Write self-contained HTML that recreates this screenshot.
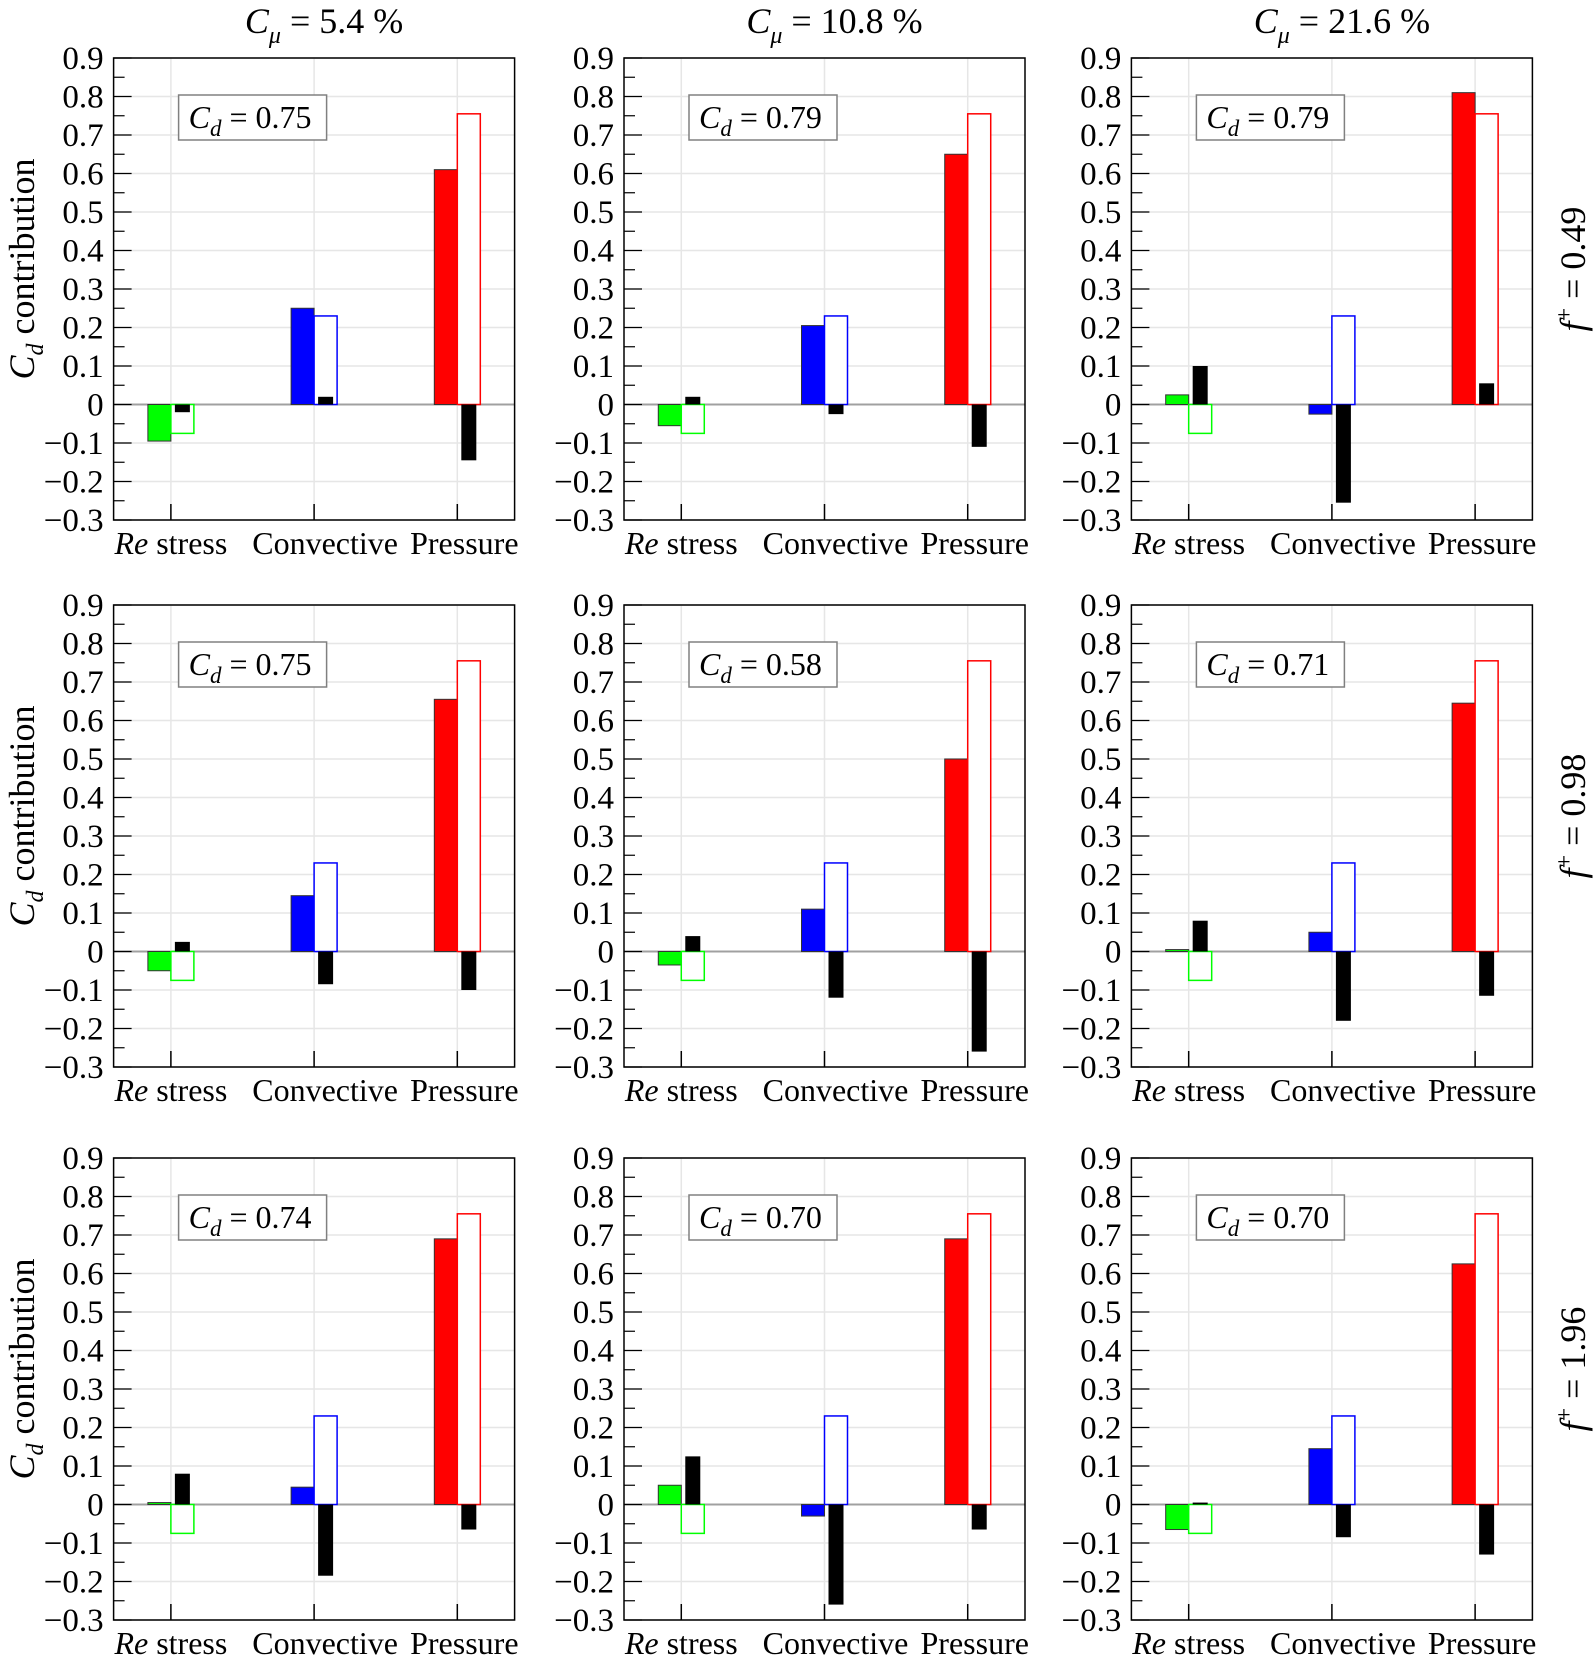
<!DOCTYPE html>
<html><head><meta charset="utf-8"><style>
html,body{margin:0;padding:0;background:#fff;}
svg{display:block;}
svg text{font-family:"Liberation Serif","Times New Roman",serif;}
</style></head><body>
<svg id="fig" width="1595" height="1666" viewBox="0 0 1595 1666" xmlns="http://www.w3.org/2000/svg" font-family="Liberation Serif, serif"></svg>
<script>
const categories = ["Re stress", "Convective", "Pressure"];
const colTitles = ["5.4 %", "10.8 %", "21.6 %"];
const rowTitles = ["0.49", "0.98", "1.96"];
const cdValues = [["0.75","0.79","0.79"],["0.75","0.58","0.71"],["0.74","0.70","0.70"]];
const refValues = [-0.075, 0.23, 0.755];
const filledValues = [
  [[-0.095,0.25,0.61],[-0.055,0.205,0.65],[0.025,-0.025,0.81]],
  [[-0.05,0.145,0.655],[-0.035,0.11,0.50],[0.005,0.05,0.645]],
  [[0.005,0.045,0.69],[0.05,-0.03,0.69],[-0.065,0.145,0.625]]
];
const blackValues = [
  [[-0.02,0.02,-0.145],[0.02,-0.025,-0.11],[0.10,-0.255,0.055]],
  [[0.025,-0.085,-0.10],[0.04,-0.12,-0.26],[0.08,-0.18,-0.115]],
  [[0.08,-0.185,-0.065],[0.125,-0.26,-0.065],[0.005,-0.085,-0.13]]
];
const yTicks = [0.9,0.8,0.7,0.6,0.5,0.4,0.3,0.2,0.1,0,-0.1,-0.2,-0.3];
const yTickLabels = ["0.9","0.8","0.7","0.6","0.5","0.4","0.3","0.2","0.1","0","\u22120.1","\u22120.2","\u22120.3"];
const fillColors = ["#00ff00","#0000ff","#ff0000"];

const NS="http://www.w3.org/2000/svg";
const svg=document.getElementById('fig');
const FF='Liberation Serif, serif';
function mk(tag,attrs,parent){const e=document.createElementNS(NS,tag);for(const k in attrs)e.setAttribute(k,attrs[k]);if(tag==='text')e.setAttribute('font-family',FF);(parent||svg).appendChild(e);return e;}
const colX=[113.6,624,1131.4], rowY=[58,605,1158], PW=401, PH=462;
const catColors=["#00ff00","#0000ff","#ff0000"];

for(let c=0;c<3;c++){
  const t=mk('text',{x:colX[c]+PW/2+10,y:33,'text-anchor':'middle','font-size':36});
  
  
  t.innerHTML='<tspan font-style="italic">C</tspan><tspan font-style="italic" font-size="24" dy="10">μ</tspan><tspan dy="-10"> = '+colTitles[c]+'</tspan>';
}
for(let r=0;r<3;r++){
  const cy=rowY[r]+PH/2-20;
  const t=mk('text',{x:0,y:0,'text-anchor':'middle','font-size':36,transform:'translate(1585,'+cy+') rotate(-90)'});
  
  
  t.innerHTML='<tspan font-style="italic">f</tspan><tspan font-size="24" dy="-13">+</tspan><tspan dy="13"> = '+rowTitles[r]+'</tspan>';
  const yt=mk('text',{x:0,y:0,'text-anchor':'middle','font-size':36,transform:'translate(34,'+(rowY[r]+PH/2-20)+') rotate(-90)'});
  
  
  yt.innerHTML='<tspan font-style="italic">C</tspan><tspan font-style="italic" font-size="24" dy="9">d</tspan><tspan dy="-9"> contribution</tspan>';
}

for(let r=0;r<3;r++)for(let c=0;c<3;c++){
  const L=colX[c],T=rowY[r];
  const g=mk('g',{});
  
  
  const y=v=>T+(0.9-v)/1.2*PH;
  const xc=i=>L+(0.4+i)/2.8*PW;
  for(let k=0;k<yTicks.length;k++){
    const v=yTicks[k];
    mk('line',{x1:L,x2:L+PW,y1:y(v),y2:y(v),stroke:v===0?'#a0a0a0':'#e6e6e6','stroke-width':v===0?2:1.5},g);
    const tl=mk('text',{x:L-10,y:y(v)+11,'text-anchor':'end','font-size':33},g);
    
    
    tl.textContent=yTickLabels[k];
    mk('line',{x1:L,x2:L+18,y1:y(v),y2:y(v),stroke:'#000','stroke-width':1.2},g);
    if(k<yTicks.length-1){const m=v-0.05;mk('line',{x1:L,x2:L+11,y1:y(m),y2:y(m),stroke:'#000','stroke-width':1.2},g);}
  }
  for(let i=0;i<3;i++){
    mk('line',{x1:xc(i),x2:xc(i),y1:T,y2:T+PH,stroke:'#e6e6e6','stroke-width':1.5},g);
    mk('line',{x1:xc(i),x2:xc(i),y1:T+PH-16,y2:T+PH,stroke:'#000','stroke-width':1.5},g);
  }
  for(let i=0;i<3;i++){
    const f=filledValues[r][c][i], o=refValues[i], b=blackValues[r][c][i];
    const fb=mk('rect',{x:xc(i)-23,y:Math.min(y(f),y(0)),width:23,height:Math.abs(y(f)-y(0)),fill:fillColors[i],stroke:'#333','stroke-width':1},g);
    
    
    const ob=mk('rect',{x:xc(i),y:Math.min(y(o),y(0)),width:23,height:Math.abs(y(o)-y(0)),fill:'#fff',stroke:catColors[i],'stroke-width':1.5},g);
    
    
    const bb=mk('rect',{x:xc(i)+4,y:Math.min(y(b),y(0)),width:15,height:Math.abs(y(b)-y(0)),fill:'#000'},g);
    
    
  }
  mk('rect',{x:L,y:T,width:PW,height:PH,fill:'none',stroke:'#000','stroke-width':1.5},g);
  const bx=mk('rect',{x:L+65,y:T+37,width:148,height:45,fill:'#fff',stroke:'#808080','stroke-width':1.5},g);
  
  
  const ct=mk('text',{x:L+75,y:T+70,'font-size':32},g);
  
  
  ct.innerHTML='<tspan font-style="italic">C</tspan><tspan font-style="italic" font-size="23" dy="8">d</tspan><tspan dy="-8"> = '+cdValues[r][c]+'</tspan>';
  const offs=[0,11,7];
  for(let i=0;i<3;i++){
    const cl=mk('text',{x:xc(i)+offs[i],y:T+PH+34,'text-anchor':'middle','font-size':32},g);
    
    
    if(i===0) cl.innerHTML='<tspan font-style="italic">Re</tspan> stress'; else cl.textContent=categories[i];
  }
}
</script>
</body></html>
